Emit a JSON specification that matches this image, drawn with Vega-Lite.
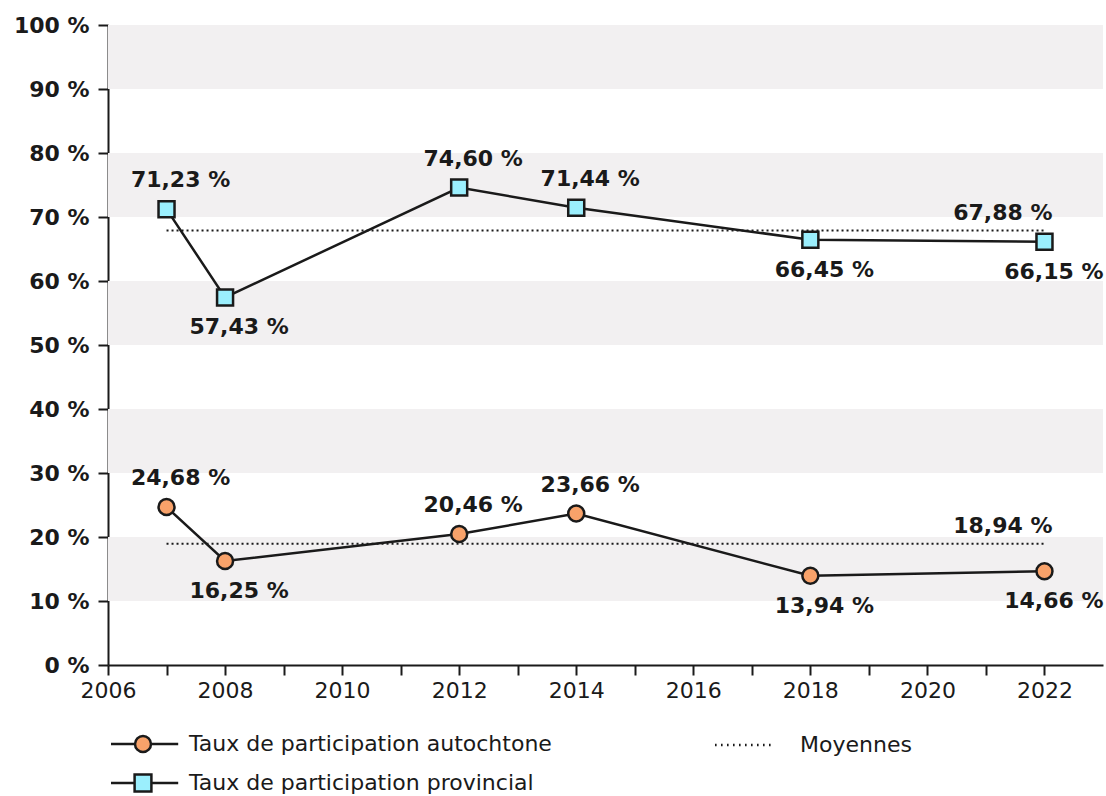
{
  "$schema": "https://vega.github.io/schema/vega-lite/v6.json",
  "width": 995,
  "height": 640,
  "autosize": "none",
  "padding": {"left": 108, "top": 25, "right": 3, "bottom": 131},
  "background": "#ffffff",
  "config": {
    "locale": {"number": {"decimal": ",", "thousands": " ", "grouping": [3], "currency": ["", " €"], "percent": " %"}},
    "view": {"stroke": null},
    "font": "DejaVu Sans",
    "axis": {
      "domainColor": "#1a1a1a", "domainWidth": 2, "tickColor": "#1a1a1a", "tickWidth": 2, "tickSize": 10,
      "labelFontSize": 22, "labelColor": "#1a1a1a", "labelFont": "DejaVu Sans", "grid": false, "title": null, "zindex": 1
    }
  },
  "datasets": {
    "bands": [
      {"lo": 0.1, "hi": 0.2}, {"lo": 0.3, "hi": 0.4}, {"lo": 0.5, "hi": 0.6}, {"lo": 0.7, "hi": 0.8}, {"lo": 0.9, "hi": 1.0}
    ],
    "rates": [
      {"series": "Taux de participation autochtone", "year": 2007, "rate": 0.2468},
      {"series": "Taux de participation autochtone", "year": 2008, "rate": 0.1625},
      {"series": "Taux de participation autochtone", "year": 2012, "rate": 0.2046},
      {"series": "Taux de participation autochtone", "year": 2014, "rate": 0.2366},
      {"series": "Taux de participation autochtone", "year": 2018, "rate": 0.1394},
      {"series": "Taux de participation autochtone", "year": 2022, "rate": 0.1466},
      {"series": "Taux de participation provincial", "year": 2007, "rate": 0.7123},
      {"series": "Taux de participation provincial", "year": 2008, "rate": 0.5743},
      {"series": "Taux de participation provincial", "year": 2012, "rate": 0.7460},
      {"series": "Taux de participation provincial", "year": 2014, "rate": 0.7144},
      {"series": "Taux de participation provincial", "year": 2018, "rate": 0.6645},
      {"series": "Taux de participation provincial", "year": 2022, "rate": 0.6615}
    ],
    "means": [
      {"series": "Taux de participation autochtone", "mean": 0.1894, "start": 2007, "end": 2022},
      {"series": "Taux de participation provincial", "mean": 0.6788, "start": 2007, "end": 2022}
    ]
  },
  "layer": [
    {
      "data": {"name": "bands"},
      "mark": {"type": "rect", "color": "#F2F0F1"},
      "encoding": {
        "x": {"datum": 2006, "type": "quantitative",
          "scale": {"domain": [2006, 2023], "nice": false, "zero": false},
          "axis": {"values": [2006,2007,2008,2009,2010,2011,2012,2013,2014,2015,2016,2017,2018,2019,2020,2021,2022],
                   "labelExpr": "datum.value % 2 === 0 ? '' + datum.value : ''", "labelPadding": 5, "title": null, "labelFlush": false, "labelOverlap": false}},
        "x2": {"datum": 2023},
        "y": {"field": "lo", "type": "quantitative",
          "scale": {"domain": [0, 1], "nice": false, "zero": true},
          "axis": {"values": [0,0.1,0.2,0.3,0.4,0.5,0.6,0.7,0.8,0.9,1], "format": ".0%", "labelFontWeight": "bold", "labelPadding": 9, "title": null, "labelOverlap": false}},
        "y2": {"field": "hi"}
      }
    },
    {
      "data": {"name": "means"},
      "mark": {"type": "rule", "color": "#1a1a1a", "strokeWidth": 2, "strokeDash": [2, 3]},
      "encoding": {
        "x": {"field": "start", "type": "quantitative", "axis": {"title": null}},
        "x2": {"field": "end"},
        "y": {"field": "mean", "type": "quantitative", "axis": {"title": null}}
      }
    },
    {
      "data": {"name": "rates"},
      "mark": {"type": "line", "color": "#1a1a1a", "strokeWidth": 2.5},
      "encoding": {
        "x": {"field": "year", "type": "quantitative", "axis": {"title": null}},
        "y": {"field": "rate", "type": "quantitative", "axis": {"title": null}},
        "detail": {"field": "series"}
      }
    },
    {
      "data": {"name": "rates"},
      "mark": {"type": "point", "filled": true, "stroke": "#1a1a1a", "strokeWidth": 2.5, "size": 256, "opacity": 1},
      "encoding": {
        "x": {"field": "year", "type": "quantitative", "axis": {"title": null}},
        "y": {"field": "rate", "type": "quantitative", "axis": {"title": null}},
        "shape": {"condition": {"test": "datum.series === 'Taux de participation provincial'", "value": "square"}, "value": "circle"},
        "fill": {"field": "series", "type": "nominal",
          "scale": {"domain": ["Taux de participation autochtone", "Taux de participation provincial", "Moyennes"], "range": ["#F8A26A", "#9BEFFD", "#ffffff"]},
          "legend": {"title": null, "orient": "none", "legendX": 0, "legendY": 708, "columns": 2, "columnPadding": 158, "rowPadding": 12,
            "labelFontSize": 22, "labelFont": "DejaVu Sans", "labelColor": "#1a1a1a", "labelOffset": 59, "symbolSize": 256, "padding": 0, "labelLimit": 600,
            "symbolStrokeColor": "#1a1a1a", "symbolStrokeWidth": 2.5,
            "symbolType": {"expr": "datum.value === 'Moyennes' ? 'M-1.875,0h0.2M-1.125,0h0.2M-0.375,0h0.2M0.375,0h0.2M1.125,0h0.2M1.875,0h0.2M2.625,0h0.2M3.375,0h0.2M4.125,0h0.2M4.875,0h0.2' : (datum.value === 'Taux de participation autochtone' ? 'M-1,0H2M4,0H7.4M2,0A1,1 0 1,0 4,0A1,1 0 1,0 2,0Z' : 'M-1,0H1.95M4.05,0H7.4M1.95,-1.05H4.05V1.05H1.95Z')"},
            "encode": {"symbols": {
              "strokeWidth": {"condition": {"test": "datum.value === 'Moyennes'", "value": 2}, "value": 2.5},
              "stroke": {"value": "#1a1a1a"}
            }}
          }}
      }
    },
    {
      "data": {"name": "rates"},
      "transform": [{"filter": {"field": "year", "oneOf": [2007, 2012, 2014]}}],
      "mark": {"type": "text", "font": "DejaVu Sans", "fontSize": 22, "fontWeight": "bold", "color": "#1a1a1a", "dx": 14, "dy": -29, "baseline": "middle"},
      "encoding": {
        "x": {"field": "year", "type": "quantitative", "axis": {"title": null}},
        "y": {"field": "rate", "type": "quantitative", "axis": {"title": null}},
        "text": {"field": "rate", "type": "quantitative", "format": ".2%"}
      }
    },
    {
      "data": {"name": "rates"},
      "transform": [{"filter": {"field": "year", "oneOf": [2008, 2018]}}],
      "mark": {"type": "text", "font": "DejaVu Sans", "fontSize": 22, "fontWeight": "bold", "color": "#1a1a1a", "dx": 14, "dy": 30, "baseline": "middle"},
      "encoding": {
        "x": {"field": "year", "type": "quantitative", "axis": {"title": null}},
        "y": {"field": "rate", "type": "quantitative", "axis": {"title": null}},
        "text": {"field": "rate", "type": "quantitative", "format": ".2%"}
      }
    },
    {
      "data": {"name": "rates"},
      "transform": [{"filter": {"field": "year", "oneOf": [2022]}}],
      "mark": {"type": "text", "font": "DejaVu Sans", "fontSize": 22, "fontWeight": "bold", "color": "#1a1a1a", "align": "right", "dx": 59, "dy": 30, "baseline": "middle"},
      "encoding": {
        "x": {"field": "year", "type": "quantitative", "axis": {"title": null}},
        "y": {"field": "rate", "type": "quantitative", "axis": {"title": null}},
        "text": {"field": "rate", "type": "quantitative", "format": ".2%"}
      }
    },
    {
      "data": {"name": "means"},
      "mark": {"type": "text", "font": "DejaVu Sans", "fontSize": 22, "fontWeight": "bold", "color": "#1a1a1a", "align": "right", "dx": 8, "dy": -18, "baseline": "middle"},
      "encoding": {
        "x": {"field": "end", "type": "quantitative", "axis": {"title": null}},
        "y": {"field": "mean", "type": "quantitative", "axis": {"title": null}},
        "text": {"field": "mean", "type": "quantitative", "format": ".2%"}
      }
    }
  ]
}
